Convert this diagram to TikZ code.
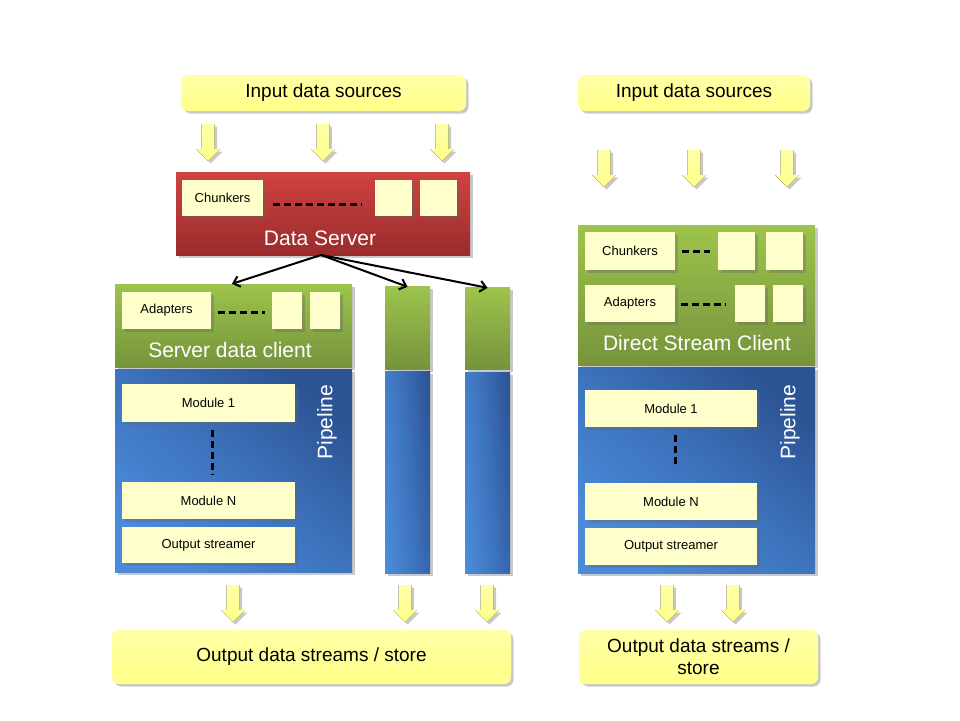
\documentclass[tikz,border=0pt]{standalone}
\usepackage{fontspec}
\setmainfont{Liberation Sans}
\usetikzlibrary{shadows,arrows.meta}
\definecolor{cream}{HTML}{FFFFCC}
\definecolor{ytop}{HTML}{FFFFA8}
\definecolor{ybot}{HTML}{FFFF88}
\definecolor{redtop}{HTML}{D04242}
\definecolor{redbot}{HTML}{9A2B2B}
\definecolor{grtop}{HTML}{9DC44C}
\definecolor{grbot}{HTML}{76933C}
\definecolor{bllight}{HTML}{4B8BDA}
\definecolor{blmid}{HTML}{3D73BD}
\definecolor{bldark}{HTML}{2C5494}
\tikzset{
  shd/.style={drop shadow={shadow xshift=2.5pt,shadow yshift=-2.5pt,opacity=0.35,fill=black!60}},
  ybox/.style={rounded corners=7pt,top color=ytop,bottom color=ybot,draw=none,shd,
    font=\fontsize{19}{22}\selectfont,inner sep=0pt,align=center},
  cream/.style={fill=cream,draw=none,shd,inner sep=0pt,font=\fontsize{13}{15}\selectfont},
  redbox/.style={top color=redtop,bottom color=redbot,draw=none,shd,inner sep=0pt},
  greenbox/.style={top color=grtop,bottom color=grbot,draw=none,shd,inner sep=0pt},
  bluebox/.style={shading=axis,top color=bldark,bottom color=bllight,middle color=blmid,shading angle=-40,draw=none,shd,inner sep=0pt},
  bluecol/.style={bluebox,shading angle=-85},
  wlabel/.style={text=white,font=\fontsize{21}{24}\selectfont,inner sep=0pt},
  dsh/.style={line width=3pt,dash pattern=on 7pt off 4pt,black},
  conn/.style={line width=2pt,-{Straight Barb[length=6pt,width=11pt,line width=2pt]}},
  yarrow/.pic={\fill[top color=ytop,bottom color=ybot,shd] (-6.5,0) -- (6.5,0) -- (6.5,25) -- (12,25) -- (0,37) -- (-12,25) -- (-6.5,25) -- cycle;}
}
\begin{document}
\begin{tikzpicture}[x=1pt,y=-1pt]
\useasboundingbox (0,0) rectangle (960,720);
\fill[white] (0,0) rectangle (960,720);

% ---------- Left system ----------
\node[ybox,minimum width=285,minimum height=36] (inL) at (323.5,93) {Input data sources};
\pic at (208,124) {yarrow};
\pic at (323,124) {yarrow};
\pic at (442,124) {yarrow};

\node[redbox,minimum width=294,minimum height=83] (ds) at (323,213.5) {};
\node[wlabel] (dsl) at (320,238) {Data Server};
\node[cream,minimum width=81,minimum height=36] (chL) at (222.5,198) {Chunkers};
\node[cream,minimum width=37,minimum height=36] (chL2) at (393.5,198) {};
\node[cream,minimum width=37,minimum height=36] (chL3) at (438.5,198) {};
\draw[dsh] (273,204) coordinate (d1a) -- (362,204) coordinate (d1b);

\node[greenbox,minimum width=237,minimum height=83] (sdc) at (233.5,325.5) {};
\node[wlabel] (sdcl) at (230,350) {Server data client};
\node[cream,minimum width=89,minimum height=37] (adL) at (166.5,310.5) {Adapters};
\node[cream,minimum width=30,minimum height=37] (adL2) at (287,310.5) {};
\node[cream,minimum width=30,minimum height=37] (adL3) at (325,310.5) {};
\draw[dsh] (218,312) coordinate (d2a) -- (265,312) coordinate (d2b);

\node[bluebox,minimum width=237,minimum height=203] (plL) at (233.5,470.5) {};
\node[cream,minimum width=173,minimum height=38] (m1L) at (208.5,403) {Module 1};
\node[cream,minimum width=173,minimum height=37] (mnL) at (208.5,500.5) {Module N};
\node[cream,minimum width=173,minimum height=36] (osL) at (208.5,545) {Output streamer};
\draw[dsh] (212,430) coordinate (d3a) -- (212,475) coordinate (d3b);
\node[wlabel,rotate=90] (pllL) at (327,422) {Pipeline};

\node[greenbox,minimum width=45,minimum height=83] (g2) at (407.5,327.5) {};
\node[bluecol,minimum width=45,minimum height=202] (b2) at (407.5,472) {};
\node[greenbox,minimum width=45,minimum height=82] (g3) at (487.5,328) {};
\node[bluecol,minimum width=45,minimum height=201] (b3) at (487.5,472.5) {};

\coordinate (dsout) at (321,255);
\draw[conn] (dsout) -- ([xshift=-1.5pt]sdc.north);
\draw[conn] (dsout) -- ([yshift=-1pt]g2.north);
\draw[conn] (dsout) -- ([yshift=-1pt]g3.north);

\pic at (233,585) {yarrow};
\pic at (405,585) {yarrow};
\pic at (487,585) {yarrow};
\node[ybox,minimum width=399,minimum height=54] (outL) at (311.5,657) {Output data streams / store};

% ---------- Right system ----------
\node[ybox,minimum width=232,minimum height=36] (inR) at (694,93) {Input data sources};
\pic at (604,150) {yarrow};
\pic at (694,150) {yarrow};
\pic at (787,150) {yarrow};

\node[greenbox,minimum width=237,minimum height=140] (dsc) at (696.5,295) {};
\node[wlabel] (dscl) at (697,343) {Direct Stream Client};
\node[cream,minimum width=90,minimum height=38] (chR) at (630,251) {Chunkers};
\node[cream,minimum width=37,minimum height=38] (chR2) at (736.5,251) {};
\node[cream,minimum width=37,minimum height=38] (chR3) at (784.5,251) {};
\draw[dsh] (682,251) coordinate (d4a) -- (710,251) coordinate (d4b);
\node[cream,minimum width=90,minimum height=37] (adR) at (630,303.5) {Adapters};
\node[cream,minimum width=30,minimum height=37] (adR2) at (750,303.5) {};
\node[cream,minimum width=30,minimum height=37] (adR3) at (788,303.5) {};
\draw[dsh] (681,304) coordinate (d5a) -- (726,304) coordinate (d5b);

\node[bluebox,minimum width=237,minimum height=206] (plR) at (696.5,470) {};
\node[cream,minimum width=172,minimum height=37] (m1R) at (671,408.5) {Module 1};
\node[cream,minimum width=172,minimum height=37] (mnR) at (671,501.5) {Module N};
\node[cream,minimum width=172,minimum height=37] (osR) at (671,546.5) {Output streamer};
\draw[dsh] (675,435) coordinate (d6a) -- (675,468) coordinate (d6b);
\node[wlabel,rotate=90] (pllR) at (790,422) {Pipeline};

\pic at (667,585) {yarrow};
\pic at (733,585) {yarrow};
\node[ybox,minimum width=239,minimum height=54] (outR) at (698.5,657) {Output data streams /\\store};
\end{tikzpicture}
\end{document}
